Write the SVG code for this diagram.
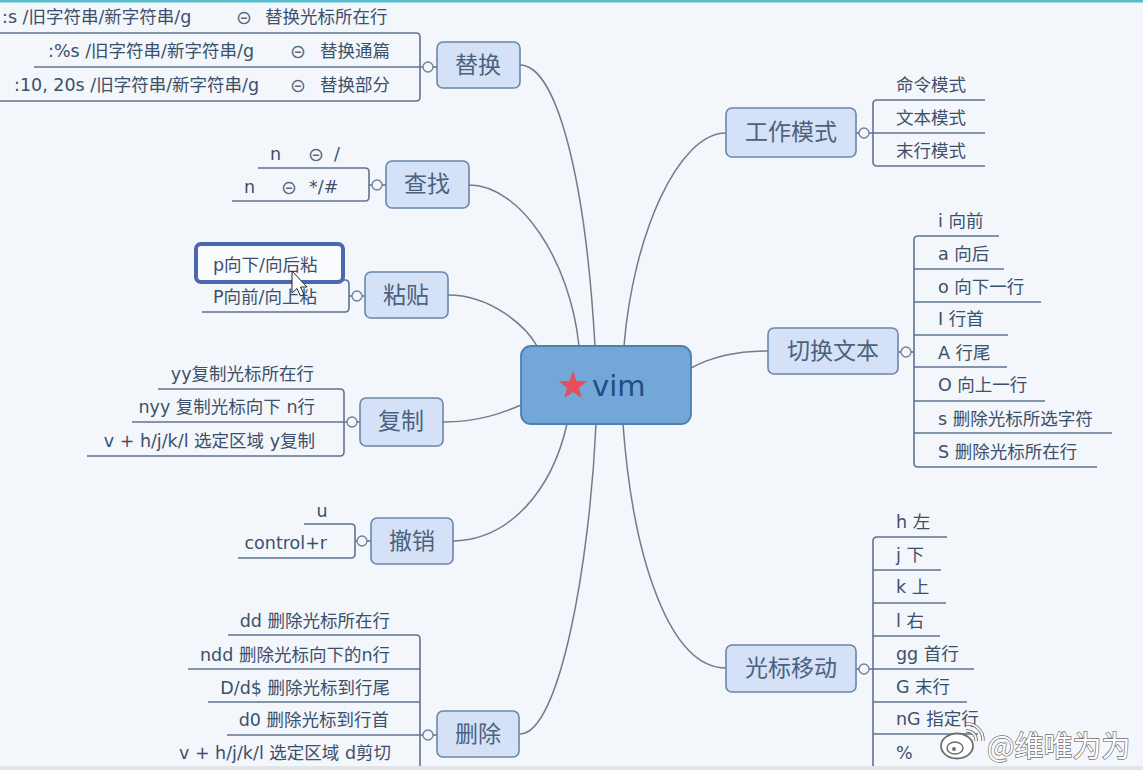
<svg xmlns="http://www.w3.org/2000/svg" width="1143" height="770" viewBox="0 0 1143 770">
<style>
.bg{fill:#f3f6fa}
.node{fill:#d5e1f6;stroke:#6a85ab;stroke-width:1.6}
.ntxt{font-family:"DejaVu Sans","Noto Sans CJK SC",sans-serif;font-size:23px;fill:#4a6180;text-anchor:middle;dominant-baseline:central}
.sub{font-family:"DejaVu Sans","Noto Sans CJK SC",sans-serif;font-size:17.5px;fill:#3c506b;dominant-baseline:central}
.end{text-anchor:end}
.sym{font-size:19px;fill:#56687f}
.ul{fill:none;stroke:#5e7490;stroke-width:1.6}
.conn{fill:none;stroke:#6f7d8c;stroke-width:1.5}
.tog{fill:#f3f6fa;stroke:#6f8097;stroke-width:1.3}
</style>
<rect class="bg" x="0" y="0" width="1143" height="770"/>
<rect x="0" y="0" width="1143" height="2.5" fill="#55bccb"/>

<g id="connectors">
<path class="conn" d="M520,65 C555,65 585,170 595,346"/>
<path class="conn" d="M469,185 C520,185 570,260 579,346"/>
<path class="conn" d="M448,295 C490,295 525,325 537,346"/>
<path class="conn" d="M443,422 C480,422 505,412 521,405"/>
<path class="conn" d="M453,541 C510,540 552,490 567,424"/>
<path class="conn" d="M520,734 C560,734 590,560 596,424"/>
<path class="conn" d="M726,133 C678,133 633,235 624,346"/>
<path class="conn" d="M691,368 C715,355 740,351 768,351"/>
<path class="conn" d="M623,424 C633,560 670,668 726,668"/>
</g>

<g id="vim">
<rect x="521" y="346" width="170" height="78" rx="10" fill="#72a7d8" stroke="#4d7fb0" stroke-width="1.8"/>
<polygon points="573,371 576.6,381 587.3,381.3 578.8,387.8 581.8,398 573,392 564.2,398 567.2,387.8 558.7,381.3 569.4,381" fill="#e84d5a"/>
<text x="592" y="386" font-family="DejaVu Sans,sans-serif" font-size="29" fill="#1d4f80" dominant-baseline="central">vim</text>
</g>

<g id="tihuan">
<path class="ul" d="M0,33 H416 Q420,33 420,37 V97 Q420,101 416,101 H0"/>
<path class="ul" d="M34,67 H423"/>
<line class="ul" x1="433" y1="67" x2="437" y2="67"/>
<circle class="tog" cx="428" cy="67" r="5"/>
<rect class="node" x="437" y="42" width="83" height="46" rx="6"/>
<text class="ntxt" x="478" y="65">替换</text>
<text class="sub" y="17"><tspan x="2">:s /旧字符串/新字符串/g</tspan><tspan class="sym" x="236">⊝</tspan><tspan x="265">替换光标所在行</tspan></text>
<text class="sub" y="51"><tspan x="48">:%s /旧字符串/新字符串/g</tspan><tspan class="sym" x="290">⊝</tspan><tspan x="320">替换通篇</tspan></text>
<text class="sub" y="85"><tspan x="14">:10, 20s /旧字符串/新字符串/g</tspan><tspan class="sym" x="290">⊝</tspan><tspan x="320">替换部分</tspan></text>
</g>

<g id="chazhao">
<path class="ul" d="M258,168 H365 Q369,168 369,172 V197 Q369,201 365,201 H232"/>
<line class="ul" x1="369" y1="185" x2="372" y2="185"/>
<line class="ul" x1="382" y1="185" x2="386" y2="185"/>
<circle class="tog" cx="377" cy="185" r="5"/>
<rect class="node" x="386" y="161" width="83" height="47" rx="6"/>
<text class="ntxt" x="427" y="184">查找</text>
<text class="sub" y="154" font-size="16"><tspan x="270">n</tspan><tspan class="sym" x="308">⊝</tspan><tspan x="334">/</tspan></text>
<text class="sub" y="187" font-size="16"><tspan x="244">n</tspan><tspan class="sym" x="281">⊝</tspan><tspan x="309">*/#</tspan></text>
</g>

<g id="niantie">
<path class="ul" d="M300,280 H345 Q349,280 349,284 V308 Q349,312 345,312 H202"/>
<line class="ul" x1="349" y1="296" x2="352" y2="296"/>
<line class="ul" x1="362" y1="296" x2="365" y2="296"/>
<circle class="tog" cx="357" cy="296" r="5"/>
<rect class="node" x="365" y="272" width="83" height="46" rx="6"/>
<text class="ntxt" x="406" y="295">粘贴</text>
<rect x="196" y="244" width="147" height="38" rx="5" fill="#fafbfe" stroke="#4b67ad" stroke-width="4"/>
<text class="sub" x="213" y="265">p向下/向后粘</text>
<text class="sub" x="213" y="297">P向前/向上粘</text>
<polygon points="292,271 292,293 297,288.5 300.5,296 304,294.5 300.5,287 307,287" fill="#ffffff" stroke="#222" stroke-width="1"/>
</g>

<g id="fuzhi">
<path class="ul" d="M158,389 H340 Q344,389 344,393 V452 Q344,456 340,456 H87"/>
<path class="ul" d="M132,422 H347"/>
<line class="ul" x1="357" y1="422" x2="360" y2="422"/>
<circle class="tog" cx="352" cy="422" r="5"/>
<rect class="node" x="360" y="398" width="83" height="48" rx="6"/>
<text class="ntxt" x="401" y="421">复制</text>
<text class="sub end" x="314" y="374">yy复制光标所在行</text>
<text class="sub end" x="315" y="407">nyy 复制光标向下 n行</text>
<text class="sub end" x="315" y="441">v + h/j/k/l 选定区域 y复制</text>
</g>

<g id="chexiao">
<path class="ul" d="M304,524 H351 Q355,524 355,528 V554 Q355,558 351,558 H238"/>
<line class="ul" x1="355" y1="541" x2="357" y2="541"/>
<line class="ul" x1="367" y1="541" x2="371" y2="541"/>
<circle class="tog" cx="362" cy="541" r="5"/>
<rect class="node" x="371" y="518" width="82" height="46" rx="6"/>
<text class="ntxt" x="412" y="541">撤销</text>
<text class="sub" x="322" y="511" text-anchor="middle">u</text>
<text class="sub end" x="327" y="543">control+r</text>
</g>

<g id="shanchu">
<path class="ul" d="M228,635 H416 Q420,635 420,639 V770"/>
<path class="ul" d="M188,669 H420"/>
<path class="ul" d="M208,702 H420"/>
<path class="ul" d="M227,735 H423"/>
<line class="ul" x1="433" y1="735" x2="437" y2="735"/>
<circle class="tog" cx="428" cy="735" r="5"/>
<rect class="node" x="437" y="711" width="82" height="46" rx="6"/>
<text class="ntxt" x="478" y="734">删除</text>
<text class="sub end" x="390" y="621">dd 删除光标所在行</text>
<text class="sub end" x="390" y="655">ndd 删除光标向下的n行</text>
<text class="sub end" x="390" y="688">D/d$ 删除光标到行尾</text>
<text class="sub end" x="389" y="720">d0 删除光标到行首</text>
<text class="sub end" x="391" y="753">v + h/j/k/l 选定区域 d剪切</text>
</g>

<g id="gongzuomoshi">
<path class="ul" d="M985,100 H877 Q873,100 873,104 V162 Q873,166 877,166 H985"/>
<path class="ul" d="M869,133 H985"/>
<line class="ul" x1="856" y1="133" x2="859" y2="133"/>
<circle class="tog" cx="864" cy="133" r="5"/>
<rect class="node" x="726" y="108" width="130" height="49" rx="6"/>
<text class="ntxt" x="791" y="132">工作模式</text>
<text class="sub" x="896" y="85">命令模式</text>
<text class="sub" x="896" y="118">文本模式</text>
<text class="sub" x="896" y="151">末行模式</text>
</g>

<g id="qiehuanwenben">
<path class="ul" d="M999,236 H918 Q914,236 914,240 V463 Q914,467 918,467 H1097"/>
<path class="ul" d="M914,269 H1004"/>
<path class="ul" d="M914,302 H1041"/>
<path class="ul" d="M914,335 H1008"/>
<path class="ul" d="M914,367 H1007"/>
<path class="ul" d="M914,401 H1045"/>
<path class="ul" d="M914,433 H1112"/>
<line class="ul" x1="911" y1="352" x2="914" y2="352"/>
<line class="ul" x1="898" y1="352" x2="901" y2="352"/>
<circle class="tog" cx="906" cy="352" r="5"/>
<rect class="node" x="768" y="328" width="130" height="46" rx="6"/>
<text class="ntxt" x="833" y="351">切换文本</text>
<text class="sub" x="938" y="221">i 向前</text>
<text class="sub" x="938" y="254">a 向后</text>
<text class="sub" x="938" y="287">o 向下一行</text>
<text class="sub" x="938" y="319">I 行首</text>
<text class="sub" x="938" y="353">A 行尾</text>
<text class="sub" x="938" y="385">O 向上一行</text>
<text class="sub" x="938" y="419">s 删除光标所选字符</text>
<text class="sub" x="938" y="452">S 删除光标所在行</text>
</g>

<g id="guangbiaoyidong">
<path class="ul" d="M947,537 H877 Q873,537 873,541 V770"/>
<path class="ul" d="M873,570 H941"/>
<path class="ul" d="M873,603 H946"/>
<path class="ul" d="M873,636 H940"/>
<path class="ul" d="M869,669 H974"/>
<path class="ul" d="M873,702 H967"/>
<path class="ul" d="M873,734 H978"/>
<line class="ul" x1="856" y1="669" x2="859" y2="669"/>
<circle class="tog" cx="864" cy="669" r="5"/>
<rect class="node" x="726" y="645" width="130" height="47" rx="6"/>
<text class="ntxt" x="791" y="668">光标移动</text>
<text class="sub" x="896" y="522">h 左</text>
<text class="sub" x="896" y="555">j 下</text>
<text class="sub" x="896" y="587">k 上</text>
<text class="sub" x="896" y="621">l 右</text>
<text class="sub" x="896" y="654">gg 首行</text>
<text class="sub" x="896" y="687">G 末行</text>
<text class="sub" x="896" y="719">nG 指定行</text>
<text class="sub" x="896" y="753">%</text>
</g>

<rect x="0" y="766" width="1143" height="4" fill="#e2e5ea"/>

<g id="watermark">
<ellipse cx="957" cy="746" rx="16" ry="12.5" fill="#ffffff" stroke="#6d6d6d" stroke-width="1.8"/>
<ellipse cx="955" cy="748" rx="8" ry="6" fill="none" stroke="#6d6d6d" stroke-width="1.5"/>
<circle cx="954" cy="749" r="2" fill="#6d6d6d"/>
<path d="M966,731 A9,9 0 0 1 976,741" fill="none" stroke="#6d6d6d" stroke-width="3.4"/>
<path d="M966,731 A9,9 0 0 1 976,741" fill="none" stroke="#ffffff" stroke-width="1.7"/>
<path d="M966,724 A16,16 0 0 1 983,741" fill="none" stroke="#6d6d6d" stroke-width="3.4"/>
<path d="M966,724 A16,16 0 0 1 983,741" fill="none" stroke="#ffffff" stroke-width="1.7"/>
<text x="987" y="744" font-family="Noto Sans CJK SC,sans-serif" font-size="29" fill="#ffffff" stroke="#707070" stroke-width="1.4" paint-order="stroke" dominant-baseline="central">@维唯为为</text>
</g>
</svg>
